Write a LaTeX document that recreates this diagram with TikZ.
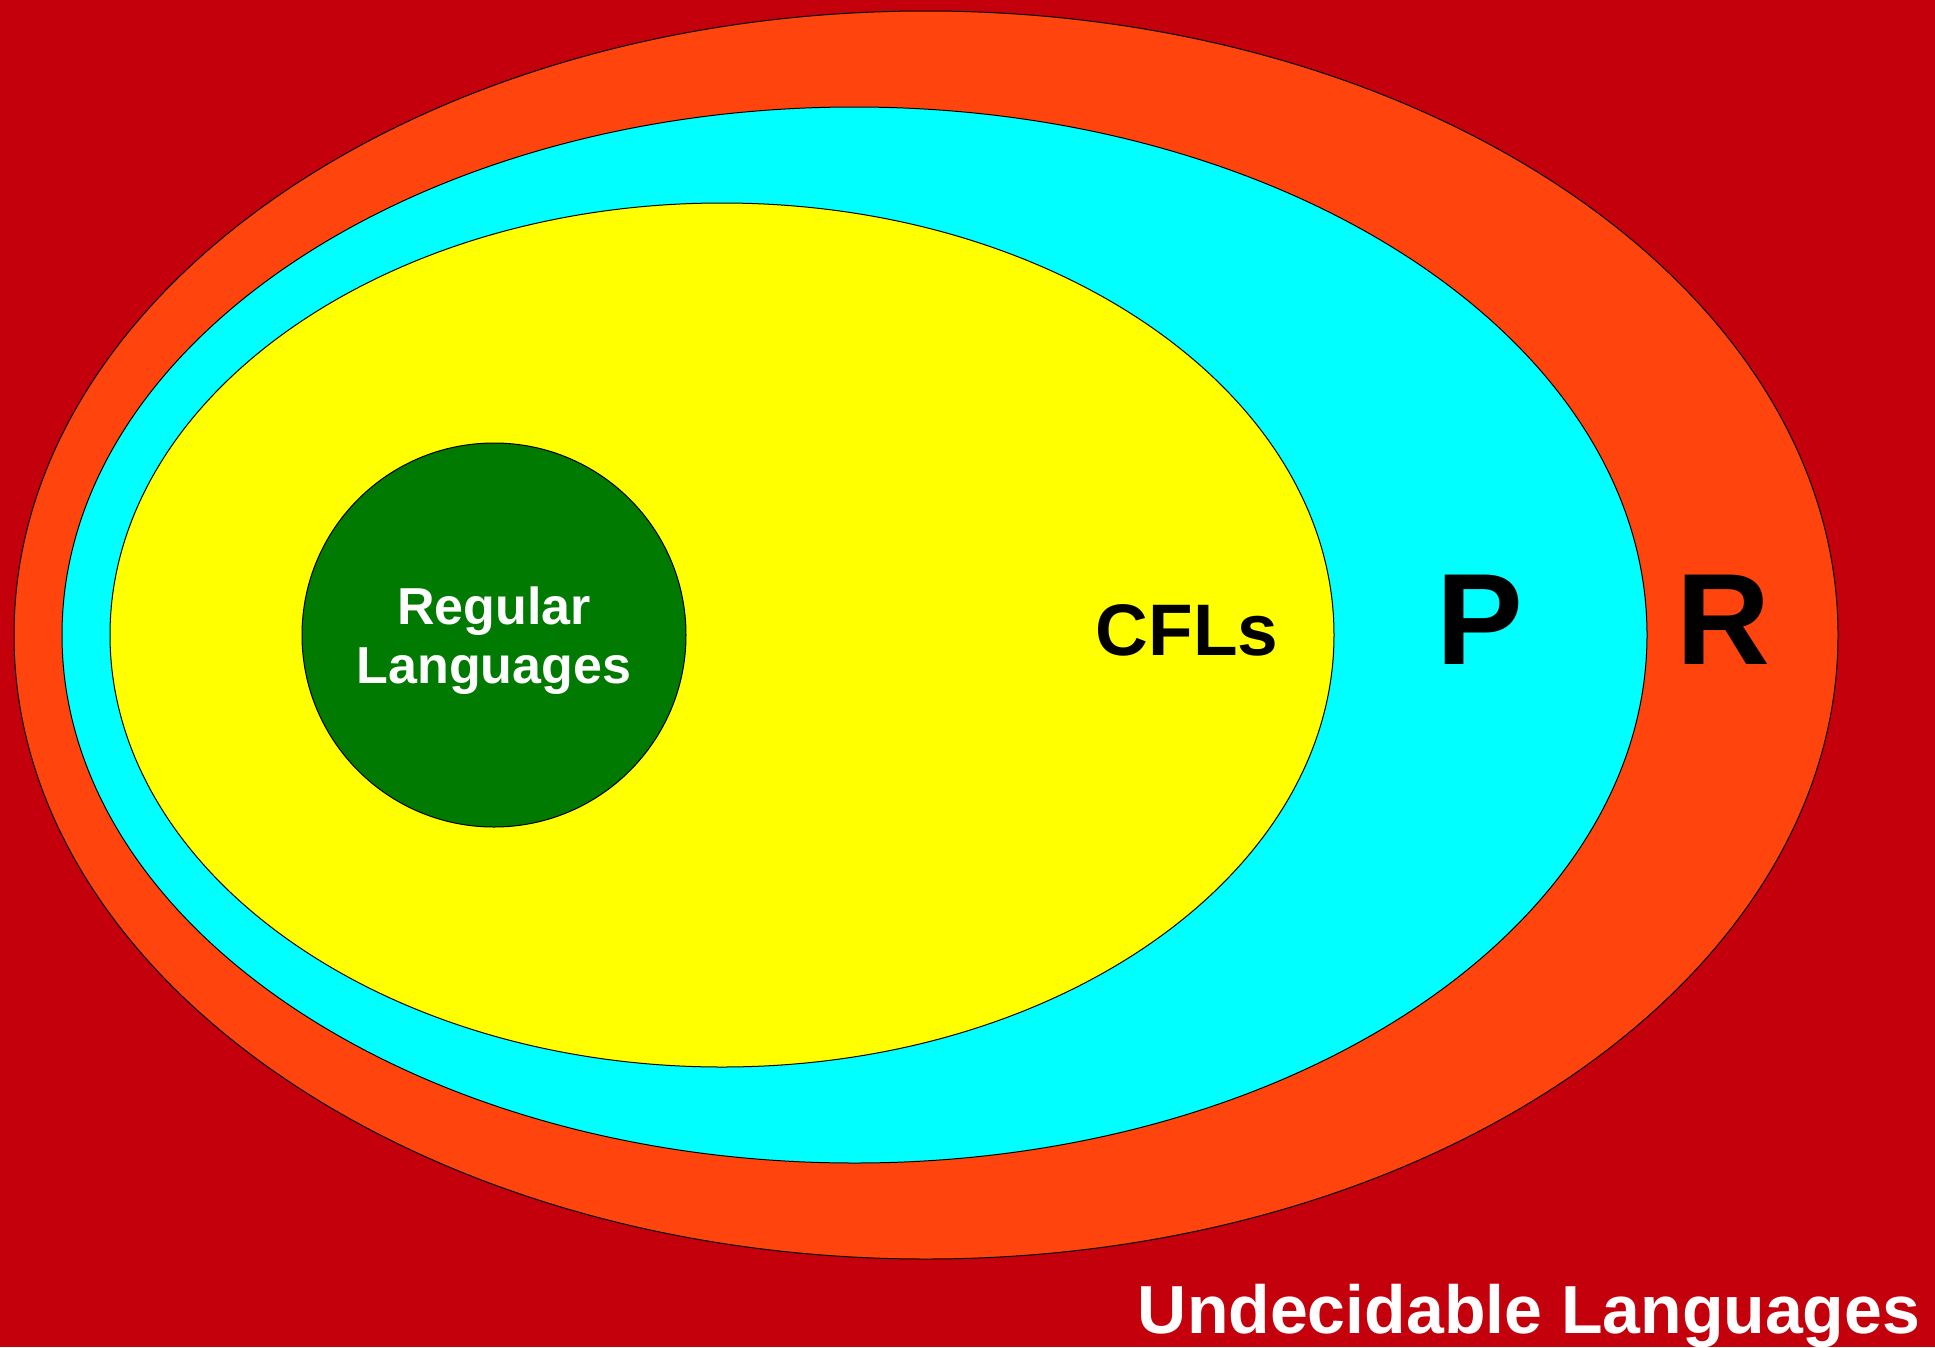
\documentclass[tikz,border=0pt]{standalone}
\usepackage{fontspec}
\setmainfont{Liberation Sans}
\definecolor{bgred}{RGB}{195,0,11}
\definecolor{rorange}{RGB}{255,69,13}
\definecolor{pcyan}{RGB}{0,255,255}
\definecolor{cflyellow}{RGB}{255,255,0}
\definecolor{reggreen}{RGB}{0,122,0}
\tikzset{
  region/.style={draw=black, line width=1pt},
  lbl/.style={anchor=base, inner sep=0pt, font=\bfseries},
}
\begin{document}
\begin{tikzpicture}[x=1pt,y=-1pt]
  \useasboundingbox (0,0) rectangle (1935,1347);
  \fill[bgred] (0,0) rectangle (1935,1347);
  \draw[region, fill=rorange] (926,635) ellipse [x radius=912, y radius=624];
  \draw[region, fill=pcyan] (854.5,635) ellipse [x radius=792.5, y radius=528];
  \draw[region, fill=cflyellow] (722,635) ellipse [x radius=612, y radius=432];
  \draw[region, fill=reggreen] (494,635) circle [radius=192];
  \node[lbl, text=white, font=\bfseries\fontsize{52}{59}\selectfont] (reg1) at (494,624) {Regular};
  \node[lbl, text=white, font=\bfseries\fontsize{52}{59}\selectfont] (reg2) at (494,683) {Languages};
  \node[lbl, text=black, font=\bfseries\fontsize{73}{80}\selectfont] (cfl) at (1187,655) {CFLs};
  \node[lbl, text=black, font=\bfseries\fontsize{130}{130}\selectfont] (p) at (1480,664) {P};
  \node[lbl, text=black, font=\bfseries\fontsize{130}{130}\selectfont] (r) at (1723,664) {R};
  \node[lbl, text=white, font=\bfseries\fontsize{68}{70}\selectfont] (undec) at (1529,1333) {Undecidable Languages};
\end{tikzpicture}
\end{document}
